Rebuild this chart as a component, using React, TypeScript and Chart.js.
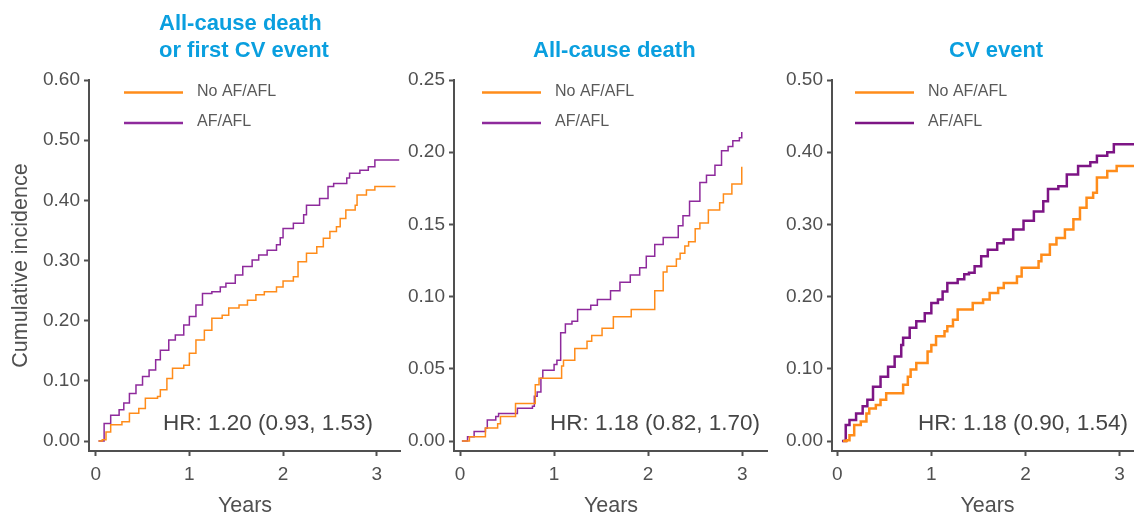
import React, { useEffect, useRef } from "react";
import { Chart, registerables } from "chart.js";

Chart.register(...registerables);

// ---------- data ----------
const xTicks = [0, 1, 2, 3];
const yTicksDeathCv = [0, 0.1, 0.2, 0.3, 0.4, 0.5, 0.6];
const yTicksDeath = [0, 0.05, 0.1, 0.15, 0.2, 0.25];
const yTicksCv = [0, 0.1, 0.2, 0.3, 0.4, 0.5];

const seriesLabels = ["No AF/AFL", "AF/AFL"];
const panelTitles = [["All-cause death", "or first CV event"], ["All-cause death"], ["CV event"]];
const hrLabels = ["HR: 1.20 (0.93, 1.53)", "HR: 1.18 (0.82, 1.70)", "HR: 1.18 (0.90, 1.54)"];
const xAxisTitle = "Years";
const yAxisTitle = "Cumulative incidence";

// Panel 1: all-cause death or first CV event
const deathCvNoAfYears = [0.03, 0.07, 0.11, 0.16, 0.28, 0.36, 0.46, 0.53, 0.66, 0.69, 0.76, 0.82, 0.94, 1.0, 1.07, 1.16, 1.24, 1.35, 1.42, 1.53, 1.62, 1.71, 1.8, 1.93, 2.0, 2.11, 2.16, 2.25, 2.36, 2.43, 2.5, 2.57, 2.61, 2.67, 2.77, 2.79, 2.89, 2.98, 3.2];
const deathCvNoAfRisk = [0, 0.002, 0.015, 0.027, 0.032, 0.046, 0.054, 0.071, 0.074, 0.085, 0.104, 0.121, 0.126, 0.146, 0.168, 0.184, 0.204, 0.209, 0.221, 0.226, 0.234, 0.243, 0.248, 0.256, 0.266, 0.273, 0.298, 0.312, 0.323, 0.337, 0.348, 0.356, 0.37, 0.384, 0.392, 0.409, 0.417, 0.423, 0.423];
const deathCvAfYears = [0.03, 0.09, 0.16, 0.25, 0.3, 0.36, 0.43, 0.5, 0.57, 0.64, 0.69, 0.78, 0.85, 0.94, 1.0, 1.07, 1.14, 1.24, 1.33, 1.39, 1.49, 1.57, 1.67, 1.74, 1.83, 1.93, 1.97, 2.0, 2.11, 2.22, 2.25, 2.39, 2.48, 2.54, 2.68, 2.71, 2.82, 2.91, 2.98, 3.24];
const deathCvAfRisk = [0, 0.029, 0.043, 0.052, 0.063, 0.079, 0.093, 0.107, 0.118, 0.135, 0.151, 0.168, 0.176, 0.193, 0.207, 0.226, 0.245, 0.248, 0.256, 0.262, 0.276, 0.29, 0.301, 0.309, 0.317, 0.326, 0.338, 0.353, 0.362, 0.376, 0.392, 0.403, 0.423, 0.428, 0.437, 0.445, 0.45, 0.456, 0.467, 0.467];

// Panel 2: all-cause death
const deathNoAfYears = [0.02, 0.1, 0.27, 0.4, 0.43, 0.59, 0.8, 0.84, 1.08, 1.1, 1.22, 1.35, 1.4, 1.51, 1.63, 1.82, 2.07, 2.16, 2.2, 2.3, 2.34, 2.39, 2.43, 2.5, 2.55, 2.64, 2.76, 2.8, 2.89, 2.995];
const deathNoAfRisk = [0, 0.003, 0.009, 0.012, 0.017, 0.026, 0.039, 0.0435, 0.052, 0.056, 0.064, 0.069, 0.073, 0.078, 0.086, 0.091, 0.104, 0.117, 0.121, 0.126, 0.13, 0.135, 0.138, 0.147, 0.151, 0.16, 0.165, 0.171, 0.178, 0.19];
const deathAfYears = [0.02, 0.08, 0.15, 0.27, 0.29, 0.38, 0.41, 0.61, 0.77, 0.79, 0.82, 0.86, 0.88, 1.0, 1.03, 1.07, 1.12, 1.19, 1.25, 1.39, 1.46, 1.6, 1.7, 1.81, 1.91, 1.98, 2.07, 2.16, 2.32, 2.37, 2.44, 2.55, 2.62, 2.71, 2.78, 2.85, 2.9, 2.97, 2.995];
const deathAfRisk = [0, 0.003, 0.0065, 0.0088, 0.0146, 0.017, 0.019, 0.0227, 0.024, 0.031, 0.034, 0.0435, 0.049, 0.053, 0.056, 0.075, 0.081, 0.083, 0.091, 0.094, 0.098, 0.104, 0.11, 0.115, 0.12, 0.128, 0.136, 0.141, 0.149, 0.156, 0.166, 0.179, 0.184, 0.191, 0.201, 0.204, 0.208, 0.21, 0.214];

// Panel 3: CV event
const cvNoAfYears = [0.06, 0.1, 0.13, 0.18, 0.25, 0.31, 0.34, 0.41, 0.46, 0.52, 0.7, 0.75, 0.78, 0.84, 0.96, 1.0, 1.05, 1.14, 1.17, 1.23, 1.28, 1.44, 1.55, 1.62, 1.71, 1.77, 1.91, 1.96, 2.14, 2.17, 2.26, 2.33, 2.42, 2.51, 2.58, 2.65, 2.72, 2.76, 2.87, 2.97, 3.24];
const cvNoAfRisk = [0, 0.001, 0.008, 0.022, 0.027, 0.038, 0.045, 0.05, 0.057, 0.066, 0.078, 0.089, 0.099, 0.108, 0.124, 0.133, 0.145, 0.152, 0.159, 0.168, 0.182, 0.191, 0.196, 0.205, 0.212, 0.219, 0.228, 0.24, 0.249, 0.258, 0.272, 0.281, 0.293, 0.307, 0.323, 0.337, 0.344, 0.365, 0.374, 0.381, 0.381];
const cvAfYears = [0.05, 0.09, 0.13, 0.2, 0.27, 0.32, 0.38, 0.46, 0.54, 0.61, 0.68, 0.7, 0.77, 0.84, 0.93, 1.0, 1.07, 1.12, 1.17, 1.28, 1.35, 1.4, 1.46, 1.53, 1.6, 1.7, 1.77, 1.87, 1.98, 2.09, 2.19, 2.24, 2.35, 2.44, 2.56, 2.69, 2.76, 2.87, 2.94, 3.24];
const cvAfRisk = [0, 0.022, 0.029, 0.038, 0.048, 0.057, 0.075, 0.089, 0.103, 0.117, 0.133, 0.143, 0.157, 0.166, 0.177, 0.191, 0.196, 0.207, 0.219, 0.224, 0.231, 0.233, 0.242, 0.256, 0.265, 0.274, 0.279, 0.293, 0.305, 0.318, 0.332, 0.349, 0.353, 0.369, 0.381, 0.386, 0.395, 0.4, 0.411, 0.411];

// ---------- styling ----------
const FONT = "'Liberation Sans', Arial, Helvetica, sans-serif";
const ORANGE = "#ff8c1a";
const AXIS = "#505050";
const TEXT = "#505050";
const BLUE = "#0a9fdf";
const H = 517;

const zip = (xs: number[], ys: number[]) => xs.map((x, i) => ({ x, y: ys[i] }));

type PanelCfg = {
  left: number; width: number; yAxisW: number;
  xMin: number; xMax: number; yMax: number; yTicks: number[];
  lineW: number; purple: string; showYTitle: boolean;
  titleX: number; legendX: number; hrX: number;
  title: string[]; hr: string;
  noAf: { x: number; y: number }[]; af: { x: number; y: number }[];
};

const panels: PanelCfg[] = [
  {
    left: 0, width: 401, yAxisW: 89, xMin: -0.0715, xMax: 3.259, yMax: 0.6, yTicks: yTicksDeathCv,
    lineW: 1.5, purple: "#8e2a9c", showYTitle: true, titleX: 159, legendX: 124, hrX: 163,
    title: panelTitles[0], hr: hrLabels[0],
    noAf: zip(deathCvNoAfYears, deathCvNoAfRisk), af: zip(deathCvAfYears, deathCvAfRisk),
  },
  {
    left: 401, width: 367, yAxisW: 53, xMin: -0.064, xMax: 3.274, yMax: 0.25, yTicks: yTicksDeath,
    lineW: 1.5, purple: "#8e2a9c", showYTitle: false, titleX: 132, legendX: 81, hrX: 149,
    title: panelTitles[1], hr: hrLabels[1],
    noAf: zip(deathNoAfYears, deathNoAfRisk), af: zip(deathAfYears, deathAfRisk),
  },
  {
    left: 768, width: 375, yAxisW: 64, xMin: -0.056, xMax: 3.25, yMax: 0.5, yTicks: yTicksCv,
    lineW: 2.5, purple: "#7d1585", showYTitle: false, titleX: 181, legendX: 87, hrX: 150,
    title: panelTitles[2], hr: hrLabels[2],
    noAf: zip(cvNoAfYears, cvNoAfRisk), af: zip(cvAfYears, cvAfRisk),
  },
];

const overlayPlugin = {
  id: "kmOverlay",
  afterDraw(chart: any, _args: any, opts: any) {
    const ctx = chart.ctx as CanvasRenderingContext2D;
    ctx.save();
    // panel title
    ctx.font = `bold 22px ${FONT}`;
    ctx.fillStyle = BLUE;
    ctx.textAlign = "left";
    ctx.textBaseline = "alphabetic";
    const lines: string[] = opts.title || [];
    const baseY = lines.length > 1 ? 29.5 : 57;
    lines.forEach((t, i) => ctx.fillText(t, opts.titleX, baseY + i * 27.5));
    // legend
    chart.data.datasets.forEach((ds: any, i: number) => {
      const y = 92.5 + i * 30.5;
      ctx.strokeStyle = ds.borderColor;
      ctx.lineWidth = 2.5;
      ctx.beginPath();
      ctx.moveTo(opts.legendX, y);
      ctx.lineTo(opts.legendX + 59, y);
      ctx.stroke();
      ctx.font = `16px ${FONT}`;
      ctx.fillStyle = "#595959";
      ctx.fillText(ds.label, opts.legendX + 73, y + 3);
    });
    // hazard ratio
    ctx.font = `22.5px ${FONT}`;
    ctx.fillStyle = "#454545";
    ctx.fillText(opts.hr, opts.hrX, 429.5);
    ctx.restore();
  },
};

function KmPanel({ cfg }: { cfg: PanelCfg }) {
  const ref = useRef<HTMLCanvasElement>(null);
  useEffect(() => {
    if (!ref.current) return;
    const yMin = -cfg.yMax * 10 / 361;
    const chart = new Chart(ref.current, {
      type: "line",
      data: {
        datasets: [
          {
            label: seriesLabels[0], data: cfg.noAf, borderColor: ORANGE, backgroundColor: ORANGE,
            borderWidth: cfg.lineW, stepped: "before", pointRadius: 0, fill: false,
          },
          {
            label: seriesLabels[1], data: cfg.af, borderColor: cfg.purple, backgroundColor: cfg.purple,
            borderWidth: cfg.lineW, stepped: "before", pointRadius: 0, fill: false,
          },
        ],
      },
      options: {
        animation: false,
        responsive: false,
        maintainAspectRatio: false,
        devicePixelRatio: 1,
        events: [],
        layout: { padding: { top: 80, left: 0, right: 0, bottom: 0 } },
        plugins: {
          legend: { display: false },
          tooltip: { enabled: false },
          title: { display: false },
          kmOverlay: { title: cfg.title, titleX: cfg.titleX, legendX: cfg.legendX, hrX: cfg.hrX, hr: cfg.hr },
        } as any,
        scales: {
          x: {
            type: "linear",
            min: cfg.xMin,
            max: cfg.xMax,
            afterBuildTicks: (s: any) => { s.ticks = xTicks.map((v) => ({ value: v })); },
            afterFit: (s: any) => { s.height = H - 451; },
            grid: { display: true, drawOnChartArea: false, drawTicks: true, tickLength: 5, tickWidth: 2, tickColor: AXIS },
            border: { display: true, width: 2, color: AXIS },
            ticks: { color: TEXT, font: { family: FONT, size: 19 }, padding: 7, maxRotation: 0, autoSkip: false, callback: (v: any) => String(v) },
            title: { display: true, text: xAxisTitle, color: TEXT, font: { family: FONT, size: 21.5, lineHeight: 1 }, padding: { top: 0, bottom: 0 } },
          },
          y: {
            type: "linear",
            min: yMin,
            max: cfg.yMax,
            afterBuildTicks: (s: any) => { s.ticks = cfg.yTicks.map((v) => ({ value: v })); },
            afterFit: (s: any) => { s.width = cfg.yAxisW; },
            grid: { display: true, drawOnChartArea: false, drawTicks: true, tickLength: 5, tickWidth: 2, tickColor: AXIS },
            border: { display: true, width: 2, color: AXIS },
            ticks: { color: TEXT, font: { family: FONT, size: 19 }, padding: 4, autoSkip: false, callback: (v: any) => Number(v).toFixed(2) },
            title: { display: cfg.showYTitle, text: yAxisTitle, color: TEXT, font: { family: FONT, size: 21.5, lineHeight: 1 }, padding: { top: 10, bottom: 0 } },
          },
        },
      },
      plugins: [overlayPlugin],
    } as any);
    return () => chart.destroy();
  }, []);
  return (
    <canvas
      ref={ref}
      width={cfg.width}
      height={H}
      style={{ position: "absolute", left: cfg.left, top: 0, width: cfg.width, height: H }}
    />
  );
}

export default function App() {
  return (
    <div style={{ position: "fixed", left: 0, top: 0, width: 1134, height: H, overflow: "hidden", background: "#fff" }}>
      {panels.map((p, i) => (
        <KmPanel key={i} cfg={p} />
      ))}
    </div>
  );
}
